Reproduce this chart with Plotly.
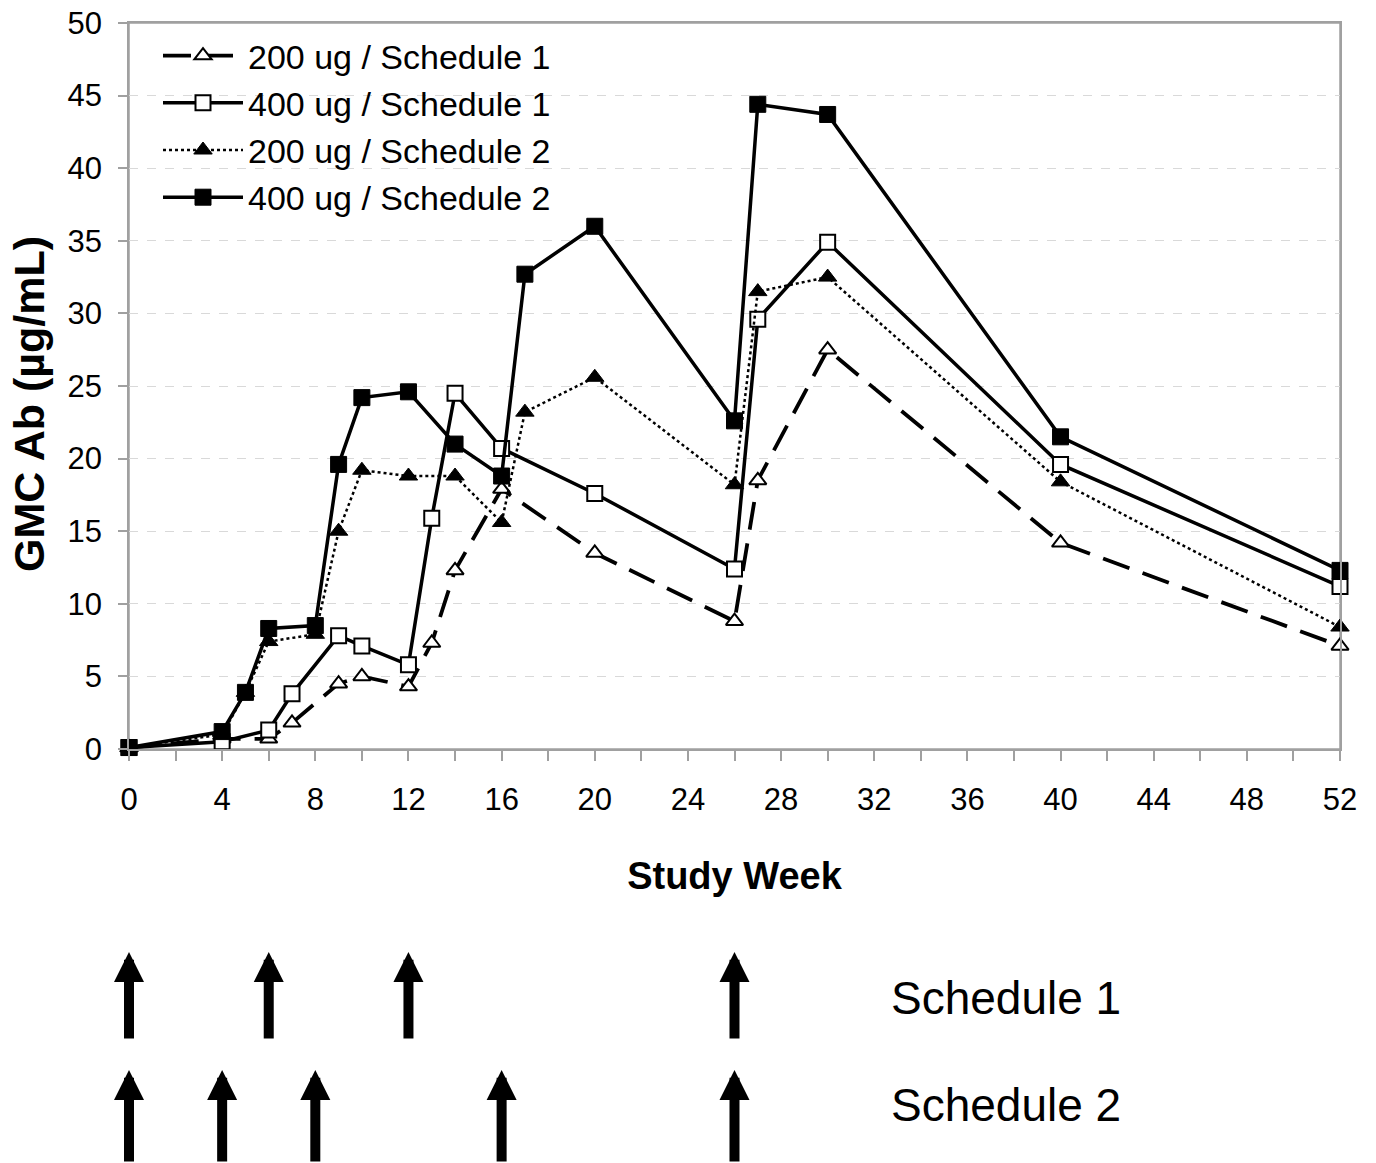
import plotly.graph_objects as go

# ---------------- data ----------------
weeks_200_s1 = [0, 4, 6, 7, 9, 10, 12, 13, 14, 16, 20, 26, 27, 30, 40, 52]
gmc_200_s1 = [0.1, 0.7, 0.7, 1.8, 4.5, 5.0, 4.3, 7.3, 12.3, 17.9, 13.5, 8.8, 18.5, 27.5, 14.2, 7.1]

weeks_400_s1 = [0, 4, 6, 7, 9, 10, 12, 13, 14, 16, 20, 26, 27, 30, 40, 52]
gmc_400_s1 = [0.1, 0.5, 1.3, 3.8, 7.8, 7.1, 5.8, 15.9, 24.5, 20.7, 17.6, 12.4, 29.6, 34.9, 19.6, 11.2]

weeks_200_s2 = [0, 4, 5, 6, 8, 9, 10, 12, 14, 16, 17, 20, 26, 27, 30, 40, 52]
gmc_200_s2 = [0.1, 1.0, 3.9, 7.4, 7.9, 15.0, 19.2, 18.8, 18.8, 15.6, 23.2, 25.6, 18.2, 31.5, 32.5, 18.4, 8.4]

weeks_400_s2 = [0, 4, 5, 6, 8, 9, 10, 12, 14, 16, 17, 20, 26, 27, 30, 40, 52]
gmc_400_s2 = [0.1, 1.2, 3.9, 8.3, 8.5, 19.6, 24.2, 24.6, 21.0, 18.8, 32.7, 36.0, 22.6, 44.4, 43.7, 21.5, 12.3]

series_names = ["200 ug / Schedule 1", "400 ug / Schedule 1",
                "200 ug / Schedule 2", "400 ug / Schedule 2"]

schedule1_dose_weeks = [0, 6, 12, 26]
schedule2_dose_weeks = [0, 4, 8, 16, 26]
schedule_labels = ["Schedule 1", "Schedule 2"]

x_title = "Study Week"
y_title = "GMC Ab (µg/mL)"

# ---------------- figure ----------------
FONT = "Liberation Sans, Arial, sans-serif"
AXIS_GRAY = "#a0a0a0"
fig = go.Figure()

fig.add_trace(go.Scatter(
    x=weeks_200_s1, y=gmc_200_s1, name=series_names[0], mode="lines+markers",
    line=dict(color="black", width=3.8, dash="28px,14px"),
    marker=dict(symbol="triangle-up", size=15, color="white",
                line=dict(color="black", width=2)),
    cliponaxis=False, legendgroup="a"))
fig.add_trace(go.Scatter(
    x=weeks_400_s1, y=gmc_400_s1, name=series_names[1], mode="lines+markers",
    line=dict(color="black", width=3.5),
    marker=dict(symbol="square", size=15, color="white",
                line=dict(color="black", width=2)),
    cliponaxis=False, legendgroup="b"))
fig.add_trace(go.Scatter(
    x=weeks_200_s2, y=gmc_200_s2, name=series_names[2], mode="lines+markers",
    line=dict(color="black", width=2.5, dash="dot"),
    marker=dict(symbol="triangle-up", size=16, color="black",
                line=dict(color="black", width=1)),
    cliponaxis=False, legendgroup="c"))
fig.add_trace(go.Scatter(
    x=weeks_400_s2, y=gmc_400_s2, name=series_names[3], mode="lines+markers",
    line=dict(color="black", width=3.5),
    marker=dict(symbol="square", size=16, color="black",
                line=dict(color="black", width=1)),
    cliponaxis=False, legendgroup="d"))

# the page's body margin is removed (see post_script), so figure px == screen px
W, H = 1376, 1163
L, T = 129, 23
plot_w, plot_h = 1211, 726
R = W - L - plot_w
B = H - T - plot_h


def paper_y(px):
    return (T + plot_h - px) / plot_h


def paper_x(px):
    return (px - L) / plot_w


annotations = []
for weeks, tip_px, tail_len in [(schedule1_dose_weeks, 952, 88),
                                 (schedule2_dose_weeks, 1070, 96)]:
    for wk in weeks:
        annotations.append(dict(
            x=wk, xref="x", y=paper_y(tip_px), yref="paper", text="",
            showarrow=True, arrowhead=2, arrowsize=0.6, arrowwidth=10,
            arrowcolor="black", ax=0, ay=tail_len, axref="pixel", ayref="pixel",
            standoff=0, startstandoff=0))

for lbl, cy in zip(schedule_labels, [998, 1105]):
    annotations.append(dict(
        x=paper_x(889), xref="paper", y=paper_y(cy), yref="paper",
        text=lbl, showarrow=False, xanchor="left", yanchor="middle",
        font=dict(family=FONT, size=46, color="black")))

# y axis title
annotations.append(dict(
    x=paper_x(29), xref="paper", y=paper_y(404), yref="paper",
    text=f"<b>{y_title}</b>", textangle=-90, showarrow=False,
    xanchor="center", yanchor="middle",
    font=dict(family=FONT, size=43, color="black")))

fig.update_layout(
    width=W, height=H,
    margin=dict(l=L, r=R, t=T, b=B, autoexpand=False),
    paper_bgcolor="white", plot_bgcolor="white",
    font=dict(family=FONT, color="black"),
    showlegend=True,
    legend=dict(x=paper_x(158), y=paper_y(27), xanchor="left", yanchor="top",
                font=dict(family=FONT, size=34, color="black"),
                bgcolor="rgba(0,0,0,0)", borderwidth=0,
                traceorder="grouped", tracegroupgap=0, itemwidth=80),
    annotations=annotations,
    shapes=[dict(type="rect", xref="paper", yref="paper", x0=0, x1=1, y0=0, y1=1,
                 line=dict(color=AXIS_GRAY, width=1.5), fillcolor="rgba(0,0,0,0)",
                 layer="below")],
)

fig.update_xaxes(
    range=[0, 52], tickmode="linear", tick0=0, dtick=4,
    ticks="outside", ticklen=10, tickcolor=AXIS_GRAY, tickwidth=1.5,
    minor=dict(tickmode="linear", tick0=0, dtick=2, ticks="outside",
               ticklen=10, tickcolor=AXIS_GRAY, tickwidth=1.5, showgrid=False),
    showline=True, linecolor=AXIS_GRAY, linewidth=1.5, mirror=True,
    showgrid=False, zeroline=False, ticklabelstandoff=12,
    ticklabeloverflow="allow",
    tickfont=dict(family=FONT, size=31, color="black"),
    title=dict(text=f"<b>{x_title}</b>", font=dict(family=FONT, size=38, color="black"),
               standoff=46),
)
fig.update_yaxes(
    range=[0, 50], tickmode="linear", tick0=0, dtick=5,
    ticks="outside", ticklen=9, tickcolor=AXIS_GRAY, tickwidth=1.5,
    showline=True, linecolor=AXIS_GRAY, linewidth=1.5, mirror=True,
    showgrid=True, gridcolor="#d9d9d9", griddash="dash", gridwidth=1.2,
    zeroline=False, ticklabelstandoff=10, ticklabeloverflow="allow",
    tickfont=dict(family=FONT, size=31, color="black"),
)

fig.write_html(
    "out.html",
    config={"displayModeBar": False},
    post_script="document.body.style.margin='0px';"
                "document.body.style.overflow='hidden';",
)
